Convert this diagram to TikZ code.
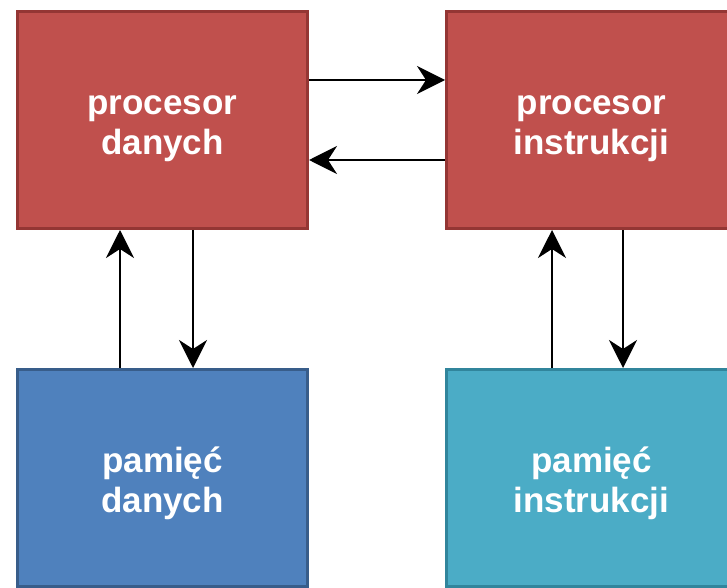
\documentclass[tikz,border=0pt]{standalone}
\usepackage{fontspec}
\setmainfont{Liberation Sans}
\usetikzlibrary{arrows.meta}
\definecolor{redfill}{HTML}{C0504D}
\definecolor{redline}{HTML}{943634}
\definecolor{bluefill}{HTML}{4F81BD}
\definecolor{blueline}{HTML}{385D8A}
\definecolor{tealfill}{HTML}{4BACC6}
\definecolor{tealline}{HTML}{31859C}
\begin{document}
\begin{tikzpicture}[x=1pt, y=-1pt,
    every node/.style={font=\fontsize{35}{40}\selectfont\bfseries, text=white},
    unitbox/.style={draw, line width=3pt, minimum width=290pt, minimum height=217pt},
    arr/.style={line width=2.2pt, -{Stealth[length=28pt, width=28pt, inset=9pt]}}]
        \useasboundingbox (0,0) rectangle (727,588);
        \clip (0,0) rectangle (727,588);
        % Processors (top row)
        \node[unitbox, fill=redfill, draw=redline] (procdan) at (162.5,120)
            {\raisebox{0pt}[\dimexpr\height+13pt][\depth]{\begin{tabular}{@{}c@{}}procesor\\danych\end{tabular}}};
        \node[unitbox, fill=redfill, draw=redline] (procinstr) at (591.5,120)
            {\raisebox{0pt}[\dimexpr\height+13pt][\depth]{\begin{tabular}{@{}c@{}}procesor\\instrukcji\end{tabular}}};
        % Memories (bottom row)
        \node[unitbox, fill=bluefill, draw=blueline] (memdan) at (162.5,478)
            {\raisebox{0pt}[\dimexpr\height+13pt][\depth]{\begin{tabular}{@{}c@{}}pamięć\\danych\end{tabular}}};
        \node[unitbox, fill=tealfill, draw=tealline] (meminstr) at (591.5,478)
            {\raisebox{0pt}[\dimexpr\height+13pt][\depth]{\begin{tabular}{@{}c@{}}pamięć\\instrukcji\end{tabular}}};
        % Links between processors
        \draw[arr] ([yshift=40pt]procdan.east) -- ([yshift=40pt]procinstr.west);
        \draw[arr] ([yshift=-40pt]procinstr.west) -- ([yshift=-40pt]procdan.east);
        % Links to memories
        \draw[arr] ([xshift=-42.5pt]memdan.north) -- ([xshift=-42.5pt]procdan.south);
        \draw[arr] ([xshift=30.5pt]procdan.south) -- ([xshift=30.5pt]memdan.north);
        \draw[arr] ([xshift=-39.5pt]meminstr.north) -- ([xshift=-39.5pt]procinstr.south);
        \draw[arr] ([xshift=31.5pt]procinstr.south) -- ([xshift=31.5pt]meminstr.north);
    \end{tikzpicture}
\end{document}
